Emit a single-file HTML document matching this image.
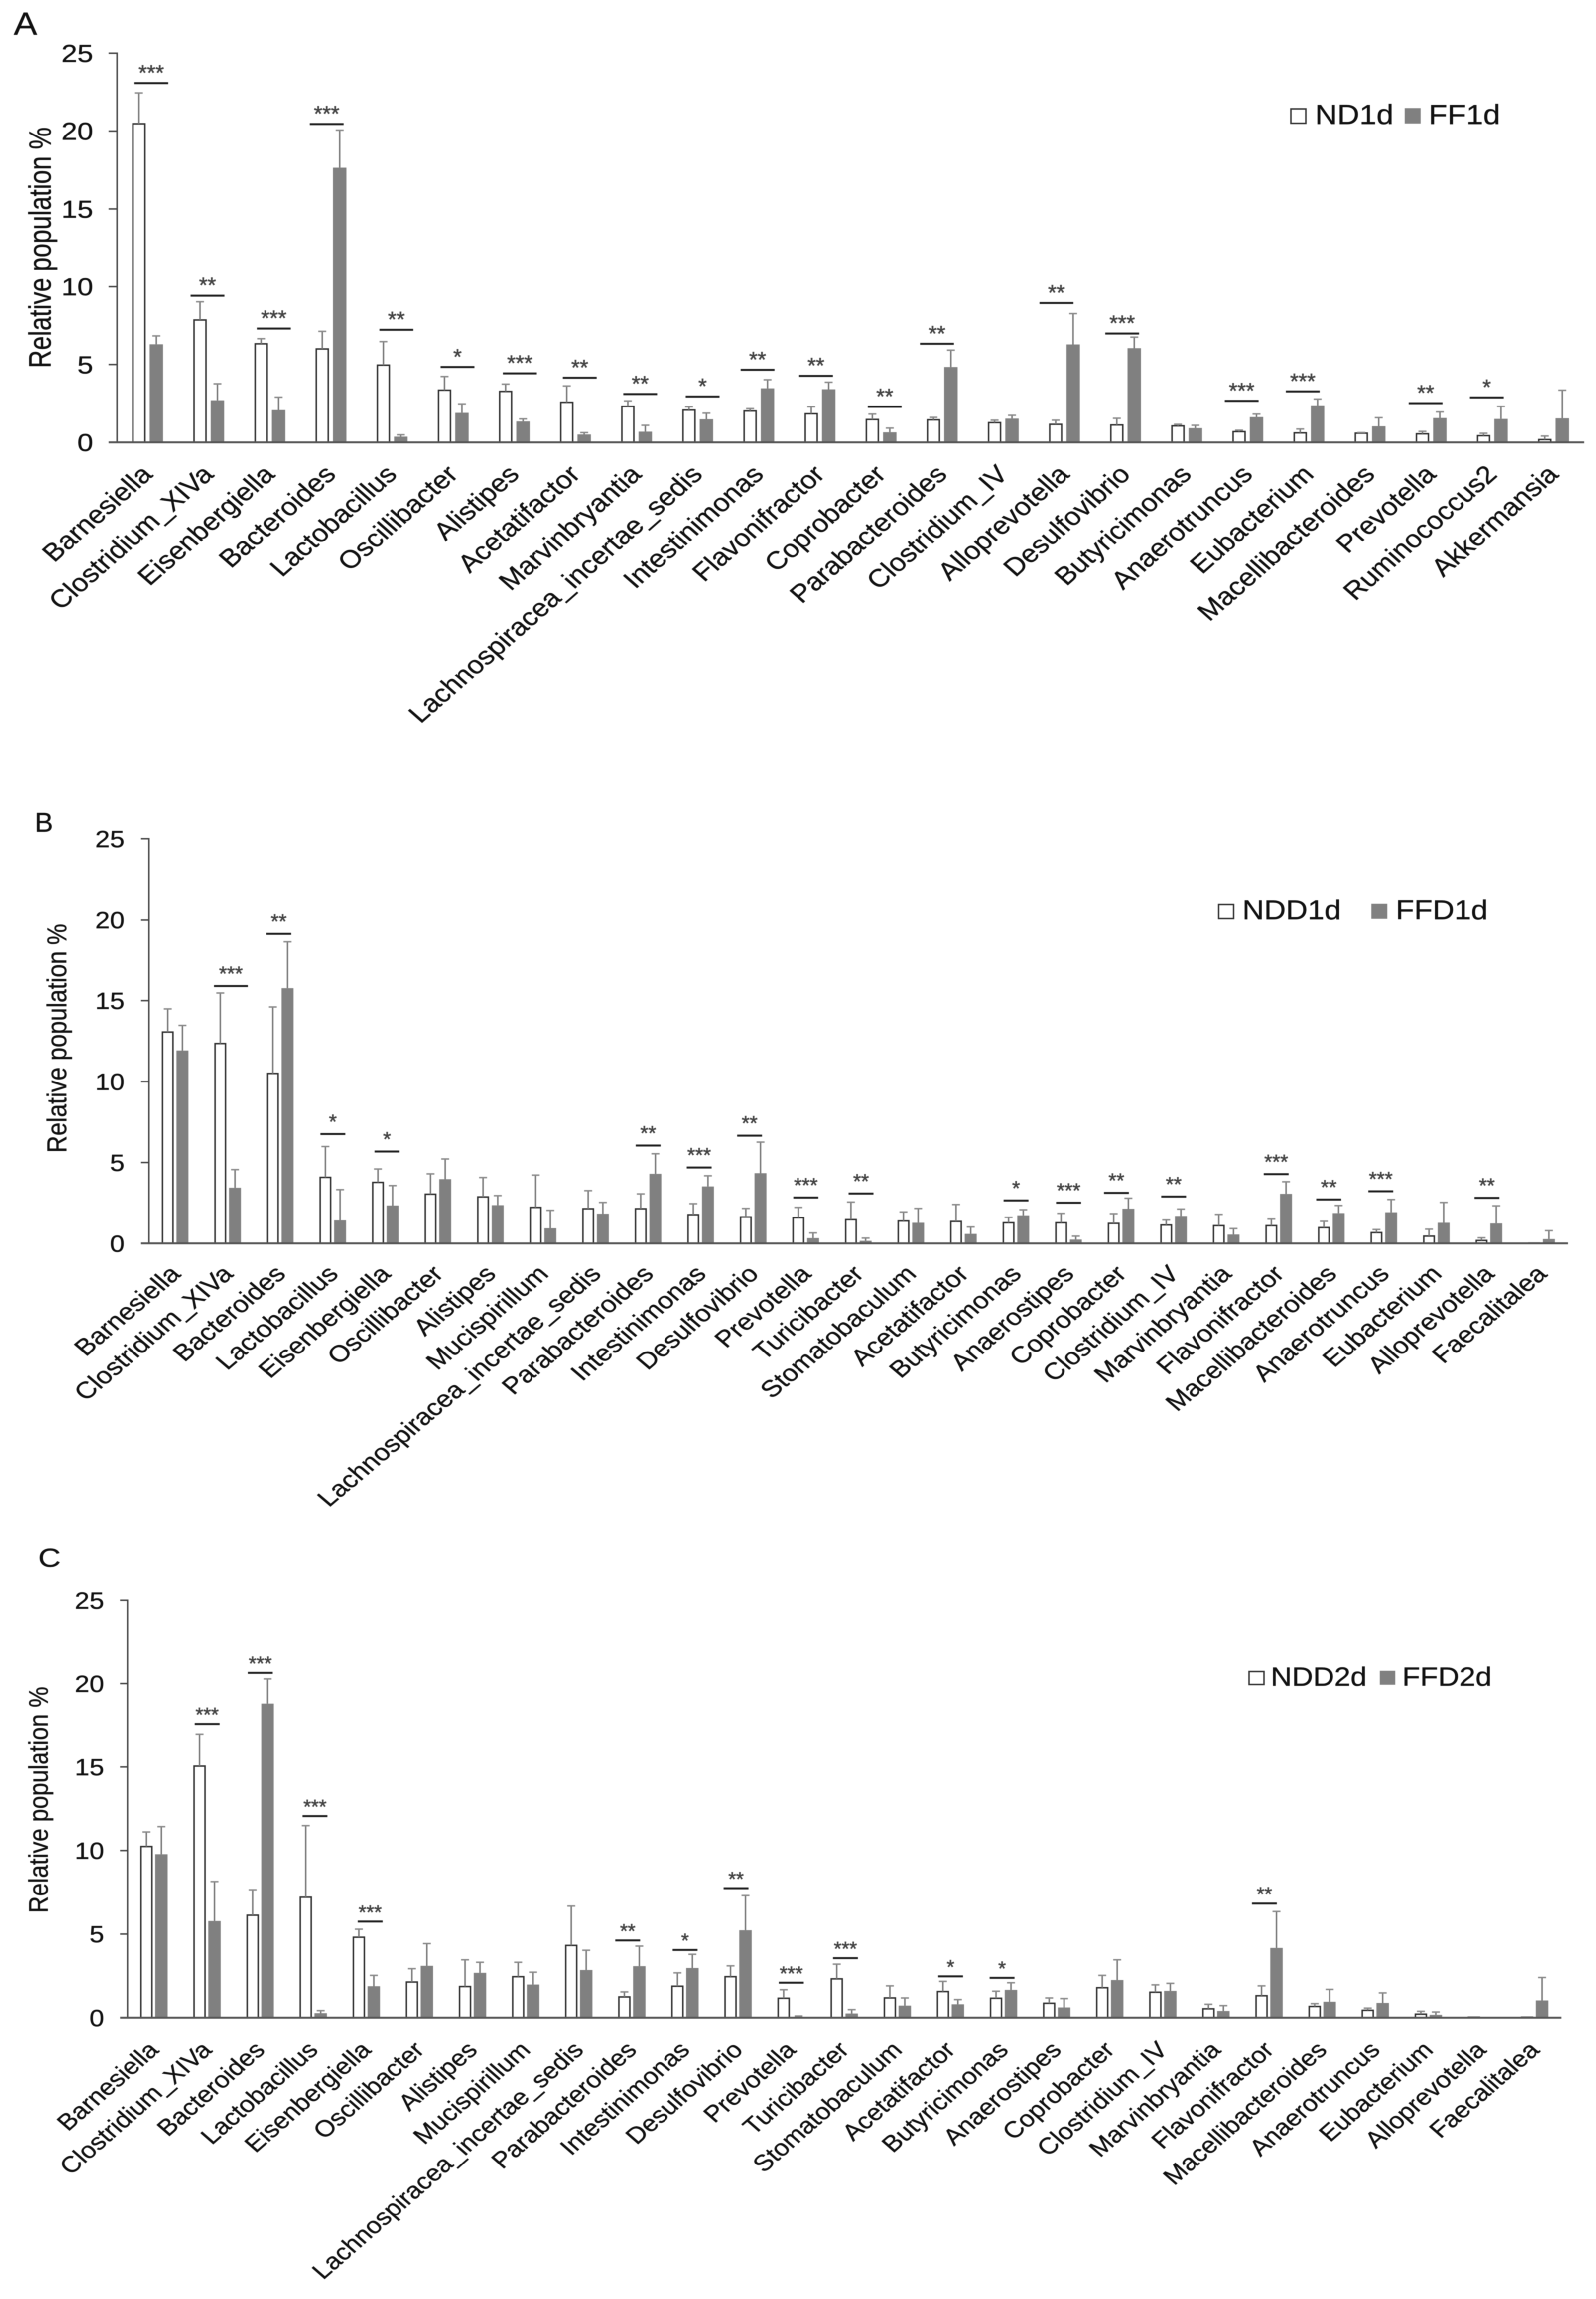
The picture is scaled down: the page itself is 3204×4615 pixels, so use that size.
<!DOCTYPE html>
<html lang="en">
<head>
<meta charset="utf-8">
<title>Relative population by genus</title>
<style>
html,body{margin:0;padding:0;background:#fff}
svg{display:block;filter:blur(0.7px)}
text{font-family:"Liberation Sans",Arial,sans-serif;fill:#111;stroke:#111;stroke-width:0.5px}
</style>
</head>
<body>
<svg id="figure" xmlns="http://www.w3.org/2000/svg" width="3204" height="4615" viewBox="0 0 3204 4615">
<rect width="3204" height="4615" fill="#fff"/>

<text transform="translate(28,70) scale(1.1,1)" font-size="64">A</text>
<text transform="translate(70,1670)" font-size="55">B</text>
<text transform="translate(77,3145) scale(1.2,1)" font-size="52">C</text>

<g>
<rect x="2591.5" y="218.5" width="30" height="29" fill="#fff" stroke="#333" stroke-width="3"/>
<text transform="translate(2640,249) scale(1.1,1)" font-size="56">ND1d</text>
<rect x="2820" y="217" width="32" height="31" fill="#808080"/>
<text transform="translate(2868,249) scale(1.1,1)" font-size="56">FF1d</text>
</g>
<g>
<rect x="2446.5" y="1815.5" width="30" height="28" fill="#fff" stroke="#333" stroke-width="3"/>
<text transform="translate(2494,1845) scale(1.1,1)" font-size="55">NDD1d</text>
<rect x="2753" y="1814" width="32" height="30" fill="#808080"/>
<text transform="translate(2802,1845) scale(1.1,1)" font-size="55">FFD1d</text>
</g>
<g>
<rect x="2507.5" y="3355.5" width="30" height="26" fill="#fff" stroke="#333" stroke-width="3"/>
<text transform="translate(2551,3384) scale(1.11,1)" font-size="53">NDD2d</text>
<rect x="2770" y="3354" width="31" height="28" fill="#808080"/>
<text transform="translate(2815,3384) scale(1.11,1)" font-size="53">FFD2d</text>
</g>

<g id="panel-a"></g>
<g id="panel-b"></g>
<g id="panel-c"></g>
</svg>

<script>
// ---------- shared axis data ----------
const yTicks = [0, 5, 10, 15, 20, 25];
const yTitle = "Relative population %";

// ---------- panel A data ----------
const categoriesA = ["Barnesiella","Clostridium_XIVa","Eisenbergiella","Bacteroides","Lactobacillus","Oscillibacter","Alistipes","Acetatifactor","Marvinbryantia","Lachnospiracea_incertae_sedis","Intestinimonas","Flavonifractor","Coprobacter","Parabacteroides","Clostridium_IV","Alloprevotella","Desulfovibrio","Butyricimonas","Anaerotruncus","Eubacterium","Macellibacteroides","Prevotella","Ruminococcus2","Akkermansia"];
const nd1d = [20.47,7.86,6.33,6.0,4.96,3.35,3.27,2.57,2.31,2.08,2.02,1.84,1.47,1.45,1.27,1.16,1.12,1.06,0.69,0.61,0.59,0.55,0.43,0.18];
const nd1dErr = [1.98,1.17,0.33,1.13,1.51,0.88,0.47,1.05,0.35,0.21,0.15,0.45,0.35,0.16,0.16,0.27,0.43,0.10,0.09,0.25,0.04,0.16,0.16,0.23];
const ff1d = [6.3,2.7,2.08,17.65,0.37,1.9,1.35,0.51,0.69,1.49,3.47,3.41,0.65,4.84,1.53,6.29,6.05,0.92,1.63,2.37,1.04,1.57,1.51,1.55];
const ff1dErr = [0.54,1.06,0.82,2.41,0.12,0.57,0.16,0.12,0.41,0.39,0.55,0.45,0.27,1.08,0.21,1.98,0.71,0.18,0.19,0.41,0.55,0.39,0.8,1.8];
const sigLevelA = [23.08,9.42,7.31,20.45,7.23,4.84,4.43,4.15,3.1,2.94,4.66,4.27,2.29,6.33,null,8.95,6.99,null,2.66,3.27,null,2.51,2.88,null];
const sigStarsA = [3,2,3,3,2,1,3,2,2,1,2,2,2,2,0,2,3,0,3,3,0,2,1,0];
const sigNudgeA = [0.06,-0.02,0.065,-0.07,0.07,0.07,0.09,0.07,0.06,0.08,-0.02,-0.065,0.06,-0.085,0,-0.13,-0.055,0,-0.10,-0.10,0,-0.09,-0.09,0];

// ---------- panel B data ----------
const categoriesB = ["Barnesiella","Clostridium_XIVa","Bacteroides","Lactobacillus","Eisenbergiella","Oscillibacter","Alistipes","Mucispirillum","Lachnospiracea_incertae_sedis","Parabacteroides","Intestinimonas","Desulfovibrio","Prevotella","Turicibacter","Stomatobaculum","Acetatifactor","Butyricimonas","Anaerostipes","Coprobacter","Clostridium_IV","Marvinbryantia","Flavonifractor","Macellibacteroides","Anaerotruncus","Eubacterium","Alloprevotella","Faecalitalea"];
const ndd1d = [13.06,12.35,10.5,4.08,3.77,3.04,2.87,2.22,2.14,2.14,1.77,1.63,1.59,1.47,1.39,1.36,1.28,1.28,1.24,1.14,1.1,1.1,0.98,0.67,0.45,0.18,0.02];
const ndd1dErr = [1.43,3.12,4.11,1.91,0.83,1.26,1.2,2.0,1.12,0.92,0.68,0.53,0.63,1.08,0.55,1.04,0.33,0.57,0.59,0.31,0.69,0.41,0.39,0.19,0.43,0.17,0];
const ffd1d = [11.92,3.44,15.77,1.43,2.34,3.97,2.36,0.94,1.83,4.3,3.52,4.34,0.33,0.16,1.28,0.59,1.73,0.24,2.14,1.69,0.55,3.06,1.87,1.92,1.28,1.24,0.27];
const ffd1dErr = [1.55,1.12,2.89,1.89,1.23,1.25,0.59,1.1,0.7,1.24,0.66,1.92,0.32,0.17,0.88,0.43,0.35,0.21,0.65,0.43,0.37,0.75,0.47,0.79,1.25,1.08,0.52];
const sigLevelB = [null,15.9,19.15,6.76,5.68,null,null,null,null,6.05,4.69,6.66,2.83,3.08,null,null,2.65,2.51,3.12,2.89,null,4.28,2.71,3.22,null,2.81,null];
const sigStarsB = [0,3,2,1,1,0,0,0,0,2,3,2,3,2,0,0,1,3,2,2,0,3,2,3,0,2,0];
const sigNudgeB = [0,0.06,-0.03,0,0.03,0,0,0,0,0,-0.03,-0.07,0,0.05,0,0,0,0,-0.09,0,0,-0.05,-0.05,-0.06,0,-0.04,0];

// ---------- panel C data ----------
const categoriesC = ["Barnesiella","Clostridium_XIVa","Bacteroides","Lactobacillus","Eisenbergiella","Oscillibacter","Alistipes","Mucispirillum","Lachnospiracea_incertae_sedis","Parabacteroides","Intestinimonas","Desulfovibrio","Prevotella","Turicibacter","Stomatobaculum","Acetatifactor","Butyricimonas","Anaerostipes","Coprobacter","Clostridium_IV","Marvinbryantia","Flavonifractor","Macellibacteroides","Anaerotruncus","Eubacterium","Alloprevotella","Faecalitalea"];
const ndd2d = [10.24,15.05,6.13,7.21,4.81,2.13,1.86,2.45,4.32,1.24,1.88,2.45,1.16,2.32,1.18,1.56,1.16,0.86,1.79,1.52,0.53,1.31,0.67,0.44,0.21,0.03,0.03];
const ndd2dErr = [0.87,1.92,1.52,4.28,0.48,0.8,1.6,0.86,2.36,0.3,0.8,0.65,0.51,0.88,0.72,0.61,0.42,0.32,0.74,0.44,0.27,0.59,0.17,0.13,0.17,0,0];
const ffd2d = [9.78,5.78,18.8,0.27,1.88,3.1,2.68,1.98,2.85,3.08,2.97,5.23,0.06,0.25,0.72,0.8,1.66,0.61,2.25,1.6,0.4,4.17,0.95,0.88,0.17,0.03,1.03];
const ffd2dErr = [1.65,2.36,1.48,0.15,0.65,1.33,0.63,0.74,1.18,1.2,0.82,2.08,0.04,0.23,0.46,0.28,0.43,0.53,1.21,0.45,0.32,2.18,0.74,0.6,0.17,0,1.37];
const sigLevelC = [null,17.58,20.64,12.06,5.75,null,null,null,null,4.62,4.05,7.74,2.09,3.56,null,2.47,2.38,null,null,null,null,6.83,null,null,null,null,null];
const sigStarsC = [0,3,3,3,3,0,0,0,0,2,1,2,3,3,0,1,1,0,0,0,0,2,0,0,0,0,0];
const sigNudgeC = [0,0,0,0.03,0.07,0,0,0,0,-0.08,0,-0.04,0,0.02,0,0,-0.03,0,0,0,0,-0.09,0,0,0,0,0];

// ---------- drawing ----------
const SVG_NS = "http://www.w3.org/2000/svg";
function mk(parent, tag, attrs, txt) {
  const node = document.createElementNS(SVG_NS, tag);
  for (const k in attrs) node.setAttribute(k, attrs[k]);
  if (txt !== undefined) node.textContent = txt;
  parent.appendChild(node);
  return node;
}

function drawPanel(rootId, series, layout) {
  const root = document.getElementById(rootId);
  const y = v => layout.y0 - (v / 25) * (layout.y0 - layout.y25);
  const groupX = i => layout.axisX + layout.step * (i + 0.5);
  const n = series.categories.length;
  const axisEnd = layout.axisX + layout.step * n;

  // bars and error bars
  series.categories.forEach((name, i) => {
    const wx = groupX(i) + layout.whiteOffset;
    const gx = groupX(i) + layout.grayOffset;

    const whiteBar = mk(root, "rect", {x: wx - layout.barW / 2 + 1.5, y: y(series.white[i]), width: layout.barW - 3, height: Math.max(0, y(0) - y(series.white[i])), fill: "#fff", stroke: "#2e2e2e", "stroke-width": 3});
    
    

    const grayBar = mk(root, "rect", {x: gx - layout.barW / 2, y: y(series.gray[i]), width: layout.barW, height: Math.max(0, y(0) - y(series.gray[i])), fill: "#808080"});
    
    

    if (series.whiteErr[i] > 0) {
      const t = y(series.white[i] + series.whiteErr[i]);
      const stem = mk(root, "line", {x1: wx, x2: wx, y1: y(series.white[i]), y2: t, stroke: "#777", "stroke-width": 3});
      
      
      const cap = mk(root, "line", {x1: wx - 8, x2: wx + 8, y1: t, y2: t, stroke: "#8a8a8a", "stroke-width": 3});
      
      
    }
    if (series.grayErr[i] > 0) {
      const t = y(series.gray[i] + series.grayErr[i]);
      const stem = mk(root, "line", {x1: gx, x2: gx, y1: y(series.gray[i]), y2: t, stroke: "#777", "stroke-width": 3});
      
      
      const cap = mk(root, "line", {x1: gx - 8, x2: gx + 8, y1: t, y2: t, stroke: "#8a8a8a", "stroke-width": 3});
      
      
    }

    // significance bracket and stars
    if (series.sigLevel[i] !== null) {
      const cx = groupX(i) + series.sigNudge[i] * layout.step;
      const sy = y(series.sigLevel[i]);
      const w = series.sigLevel[i] === layout.wideSig ? 68 : layout.sigW;
      const bracket = mk(root, "rect", {x: cx - w / 2, y: sy - 2, width: w, height: 4, fill: "#1e1e1e"});
      
      
      const stars = mk(root, "text", {x: cx, y: sy + layout.starShift, "text-anchor": "middle", "font-size": layout.starF, style: "fill:#444;stroke:#444;stroke-width:0.8px"}, "*".repeat(series.sigStars[i]));
      
      
    }

    // category label
    const label = mk(root, "text", {transform: "translate(" + (groupX(i) + layout.labelDx) + "," + (layout.y0 + layout.labelDy) + ") scale(" + layout.labelSx + ",1) rotate(-45)", "text-anchor": "end", "font-size": layout.labelF}, name);
    
    
  });

  // y axis
  const yAxis = mk(root, "line", {x1: layout.axisX, x2: layout.axisX, y1: y(25) - 1.5, y2: y(0), stroke: "#444", "stroke-width": 3});
  
  

  yTicks.forEach(t => {
    const tick = mk(root, "line", {x1: layout.tickX, x2: layout.axisX, y1: y(t), y2: y(t), stroke: "#444", "stroke-width": 3});
    
    
    const tl = mk(root, "text", {transform: "translate(" + layout.tickLabelX + "," + (y(t) + 0.358 * layout.tickF) + ") scale(" + layout.tickSx + ",1)", "text-anchor": "end", "font-size": layout.tickF}, String(t));
    
    
  });

  // x axis
  const xAxis = mk(root, "line", {x1: layout.tickX, x2: axisEnd, y1: y(0), y2: y(0), stroke: "#555", "stroke-width": 4});
  
  

  // y axis title
  const title = mk(root, "text", {transform: "translate(" + layout.titleX + "," + layout.titleY + ") scale(" + layout.titleSx + ",1) rotate(-90)", "text-anchor": "middle", "font-size": layout.titleF}, yTitle);
  
  
}

drawPanel("panel-a",
  {categories: categoriesA, white: nd1d, whiteErr: nd1dErr, gray: ff1d, grayErr: ff1dErr, sigLevel: sigLevelA, sigStars: sigStarsA, sigNudge: sigNudgeA},
  {axisX: 235, tickX: 218, y25: 107, y0: 888, step: 122.7, whiteOffset: -17.5, grayOffset: 17.5, barW: 27, sigW: 68, wideSig: null, starF: 44, starShift: -6,
   tickF: 49, tickSx: 1.17, tickLabelX: 187, labelF: 50.2, labelSx: 1.14, labelDx: 12.5, labelDy: 67, titleF: 50, titleSx: 1.25, titleX: 102, titleY: 497});

drawPanel("panel-b",
  {categories: categoriesB, white: ndd1d, whiteErr: ndd1dErr, gray: ffd1d, grayErr: ffd1dErr, sigLevel: sigLevelB, sigStars: sigStarsB, sigNudge: sigNudgeB},
  {axisX: 299, tickX: 283, y25: 1684, y0: 2496, step: 105.5, whiteOffset: -15, grayOffset: 14.5, barW: 24, sigW: 50, wideSig: 15.9, starF: 41, starShift: -11,
   tickF: 47, tickSx: 1.13, tickLabelX: 250, labelF: 47, labelSx: 1.175, labelDx: 13.5, labelDy: 64, titleF: 47.6, titleSx: 1.15, titleX: 133, titleY: 2084});

drawPanel("panel-c",
  {categories: categoriesC, white: ndd2d, whiteErr: ndd2dErr, gray: ffd2d, grayErr: ffd2dErr, sigLevel: sigLevelC, sigStars: sigStarsC, sigNudge: sigNudgeC},
  {axisX: 256, tickX: 241, y25: 3212, y0: 4050, step: 106.6, whiteOffset: -15.3, grayOffset: 14.7, barW: 25, sigW: 50, wideSig: null, starF: 40, starShift: -5,
   tickF: 47, tickSx: 1.13, tickLabelX: 209, labelF: 46.2, labelSx: 1.144, labelDx: 12, labelDy: 68, titleF: 47, titleSx: 1.15, titleX: 96, titleY: 3613});
</script>
</body>
</html>
